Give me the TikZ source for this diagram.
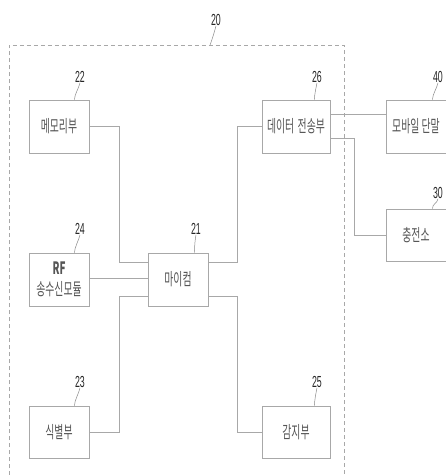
\documentclass[tikz,border=0pt]{standalone}
\usepackage{fontspec}
\newfontfamily\kr{Noto Sans CJK KR}
\newfontfamily\numf{Liberation Sans}
\usetikzlibrary{calc}
\definecolor{wirec}{HTML}{A8A8A8}
\definecolor{textc}{HTML}{555555}
\newcommand{\kt}[1]{\scalebox{0.58}[1]{\kr\fontsize{17}{19}\selectfont #1}}
\newcommand{\nt}[1]{\scalebox{0.55}[1]{\numf\fontsize{16}{18}\selectfont #1}}
\tikzset{
  blk/.style={draw=wirec, line width=0.9pt, rectangle, inner sep=0pt, text=textc},
  wire/.style={draw=wirec, line width=0.9pt},
  lead/.style={draw=textc!70, line width=0.5pt},
  num/.style={inner sep=0pt, text=black!85},
  frame/.style={draw=wirec, line width=0.7pt, dash pattern=on 4pt off 3pt}
}
\begin{document}
\begin{tikzpicture}[x=1pt,y=-1pt]
\useasboundingbox (0,0) rectangle (446,475);
\fill[white] (0,0) rectangle (446,475);
% frame 20
\draw[frame] (9,475) -- (9,45) -- (344,45) -- (344,475);
\coordinate (f20) at (210,45);
\node[num] (l20) at (216,20) {\nt{20}};
\draw[lead] (f20) .. controls +(2,-5) and +(-1,4) .. (l20.south);
% blocks
\node[blk, minimum width=60, minimum height=53] (m22) at (59,126.5) {\kt{메모리부}};
\node[blk, minimum width=68, minimum height=53] (m26) at (296,126.5) {\kt{데이터\hspace{0.35em}전송부}};
\node[blk, minimum width=60, minimum height=53] (m40) at (416,126.5) {\kt{모바일 단말}};
\node[blk, minimum width=60, minimum height=52] (m30) at (416,235) {\kt{충전소}};
\node[blk, minimum width=60, minimum height=53, align=center, font=\fontsize{16}{20}\selectfont] (m24) at (59,279.5) {\kt{\textbf{RF}}\\[1pt]\kt{송수신모듈}};
\node[blk, minimum width=60, minimum height=53] (m21) at (178,279.5) {\kt{마이컴}};
\node[blk, minimum width=60, minimum height=52] (m23) at (59,432) {\kt{식별부}};
\node[blk, minimum width=68, minimum height=52] (m25) at (296,432) {\kt{감지부}};
% labels
\node[num] (l22) at (80,77) {\nt{22}};
\node[num] (l26) at (317,77) {\nt{26}};
\node[num] (l40) at (438,77) {\nt{40}};
\node[num] (l30) at (438,193) {\nt{30}};
\node[num] (l24) at (80,229) {\nt{24}};
\node[num] (l21) at (196,229) {\nt{21}};
\node[num] (l23) at (80,382) {\nt{23}};
\node[num] (l25) at (317,382) {\nt{25}};
\foreach \b/\l/\d in {m22/l22/15, m26/l26/16, m40/l40/14, m30/l30/14, m24/l24/15, m21/l21/14, m23/l23/15, m25/l25/16}{
  \draw[lead] ([xshift=-\d pt]\b.north east) .. controls +(0,-5) and +(-1,5) .. (\l.south);
}
% connectors
\draw[wire] (m22.east) -- ++(30,0) |- ([yshift=17.5pt]m21.west);
\draw[wire] ([yshift=1.5pt]m24.east) -- ([yshift=1.5pt]m21.west);
\draw[wire] (m23.east) -- ++(30,0) |- ([yshift=-16.5pt]m21.west);
\draw[wire] ([yshift=17.5pt]m21.east) -- ++(29,0) |- (m26.west);
\draw[wire] ([yshift=-16.5pt]m21.east) -- ++(29,0) |- (m25.west);
\draw[wire] ([yshift=12.5pt]m26.east) -- ([yshift=12.5pt]m40.west);
\draw[wire] ([yshift=-11.5pt]m26.east) -- ++(24,0) |- (m30.west);
\end{tikzpicture}
\end{document}
